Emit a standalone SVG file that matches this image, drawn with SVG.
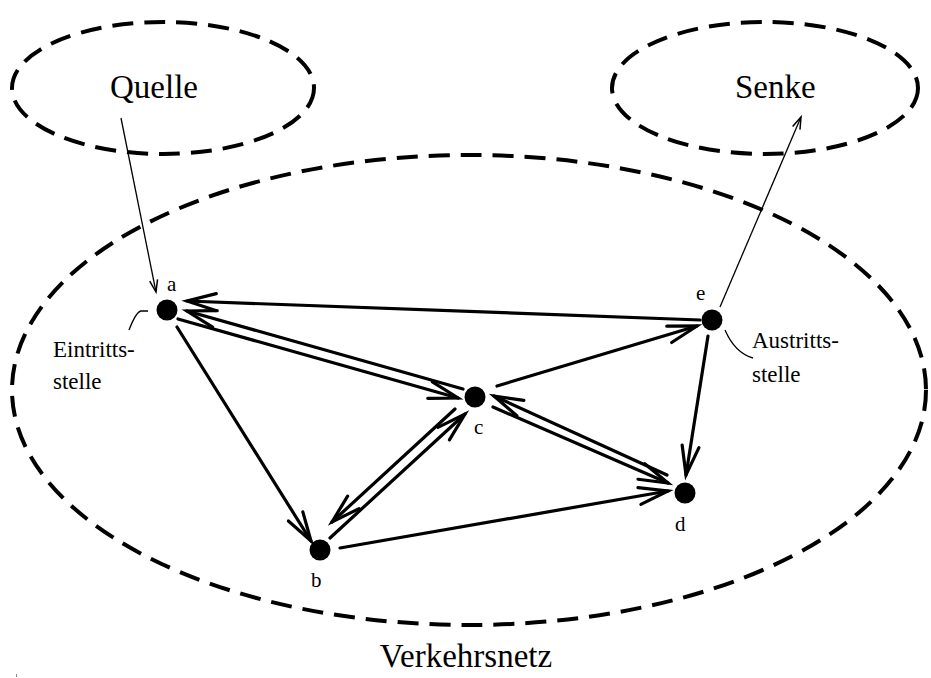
<svg xmlns="http://www.w3.org/2000/svg" width="931" height="678" viewBox="0 0 931 678">
  <style>
    .zone { fill: none; stroke: #000; stroke-width: 4; stroke-dasharray: 21 11; }
    .edge { fill: none; stroke: #000; stroke-width: 3.2; stroke-linecap: round; marker-end: url(#ah); }
    .thin { fill: none; stroke: #000; stroke-width: 1.3; marker-end: url(#ahs); }
    .lead { fill: none; stroke: #000; stroke-width: 1.3; }
    .dot { fill: #000; }
    .big { font-family: "Liberation Serif", "Times New Roman", serif; font-size: 33px; fill: #000; }
    .lbl { font-family: "Liberation Serif", "Times New Roman", serif; font-size: 23px; fill: #000; }
    .ltr { font-family: "Liberation Serif", "Times New Roman", serif; font-size: 21px; fill: #000; }
  </style>
  <defs>
    <marker id="ah" markerUnits="userSpaceOnUse" orient="auto" overflow="visible" markerWidth="1" markerHeight="1" refX="0" refY="0">
      <path d="M-29,-8.5 L0,0 L-29,8.5" fill="none" stroke="#000" stroke-width="3.2" stroke-linecap="round"/>
    </marker>
    <marker id="ahs" markerUnits="userSpaceOnUse" orient="auto" overflow="visible" markerWidth="1" markerHeight="1" refX="0" refY="0">
      <path d="M-12,-4 L0,0 L-12,4" fill="none" stroke="#000" stroke-width="1.5"/>
    </marker>
  </defs>

  <rect width="931" height="678" fill="#fff"/>

  <!-- regions -->
  <g id="quelle">
    <ellipse class="zone" cx="163" cy="88" rx="151" ry="66"/>
    <text class="big" x="110" y="98">Quelle</text>
  </g>
  <g id="senke">
    <ellipse class="zone" cx="765" cy="88" rx="153" ry="66"/>
    <text class="big" x="735" y="98">Senke</text>
  </g>
  <g id="verkehrsnetz">
    <ellipse class="zone" cx="469" cy="390" rx="457" ry="235"/>
    <text class="big" x="466" y="667" text-anchor="middle">Verkehrsnetz</text>
  </g>

  <!-- connectors -->
  <g id="connectors">
    <path class="thin" d="M121,118 L156,292"/>
    <path class="thin" d="M720,307 L801,117"/>
    <path class="edge" d="M700,320 L187,301"/>
    <path class="edge" d="M463,389 L187,311"/>
    <path class="edge" d="M178,319 L458,398"/>
    <path class="edge" d="M177,327 L311,541"/>
    <path class="edge" d="M455,409 L332,522"/>
    <path class="edge" d="M330,538 L465,414"/>
    <path class="edge" d="M340,548 L668,491"/>
    <path class="edge" d="M497,386 L697,326"/>
    <path class="edge" d="M708,336 L686,475"/>
    <path class="edge" d="M667,475 L494,396"/>
    <path class="edge" d="M493,407 L668,483"/>
  </g>

  <!-- nodes -->
  <g id="node-a">
    <circle class="dot" cx="167" cy="310" r="10.5"/>
    <text class="ltr" x="167" y="291">a</text>
    <path class="lead" d="M148,311 L141,311 Q136,312 129,330"/>
    <text class="lbl" x="53" y="357">Eintritts-</text>
    <text class="lbl" x="53" y="389">stelle</text>
  </g>
  <g id="node-b">
    <circle class="dot" cx="320" cy="550" r="10.5"/>
    <text class="ltr" x="311" y="587">b</text>
  </g>
  <g id="node-c">
    <circle class="dot" cx="475" cy="397" r="10.5"/>
    <text class="ltr" x="474" y="434">c</text>
  </g>
  <g id="node-d">
    <circle class="dot" cx="685" cy="493" r="10.5"/>
    <text class="ltr" x="675" y="531">d</text>
  </g>
  <g id="node-e">
    <circle class="dot" cx="712" cy="320" r="10.5"/>
    <text class="ltr" x="696" y="300">e</text>
    <path class="lead" d="M725,330 Q735,353 753,358"/>
    <text class="lbl" x="752" y="348">Austritts-</text>
    <text class="lbl" x="752" y="382">stelle</text>
  </g>

  <rect x="16" y="674" width="1" height="3" fill="#888"/>
</svg>
